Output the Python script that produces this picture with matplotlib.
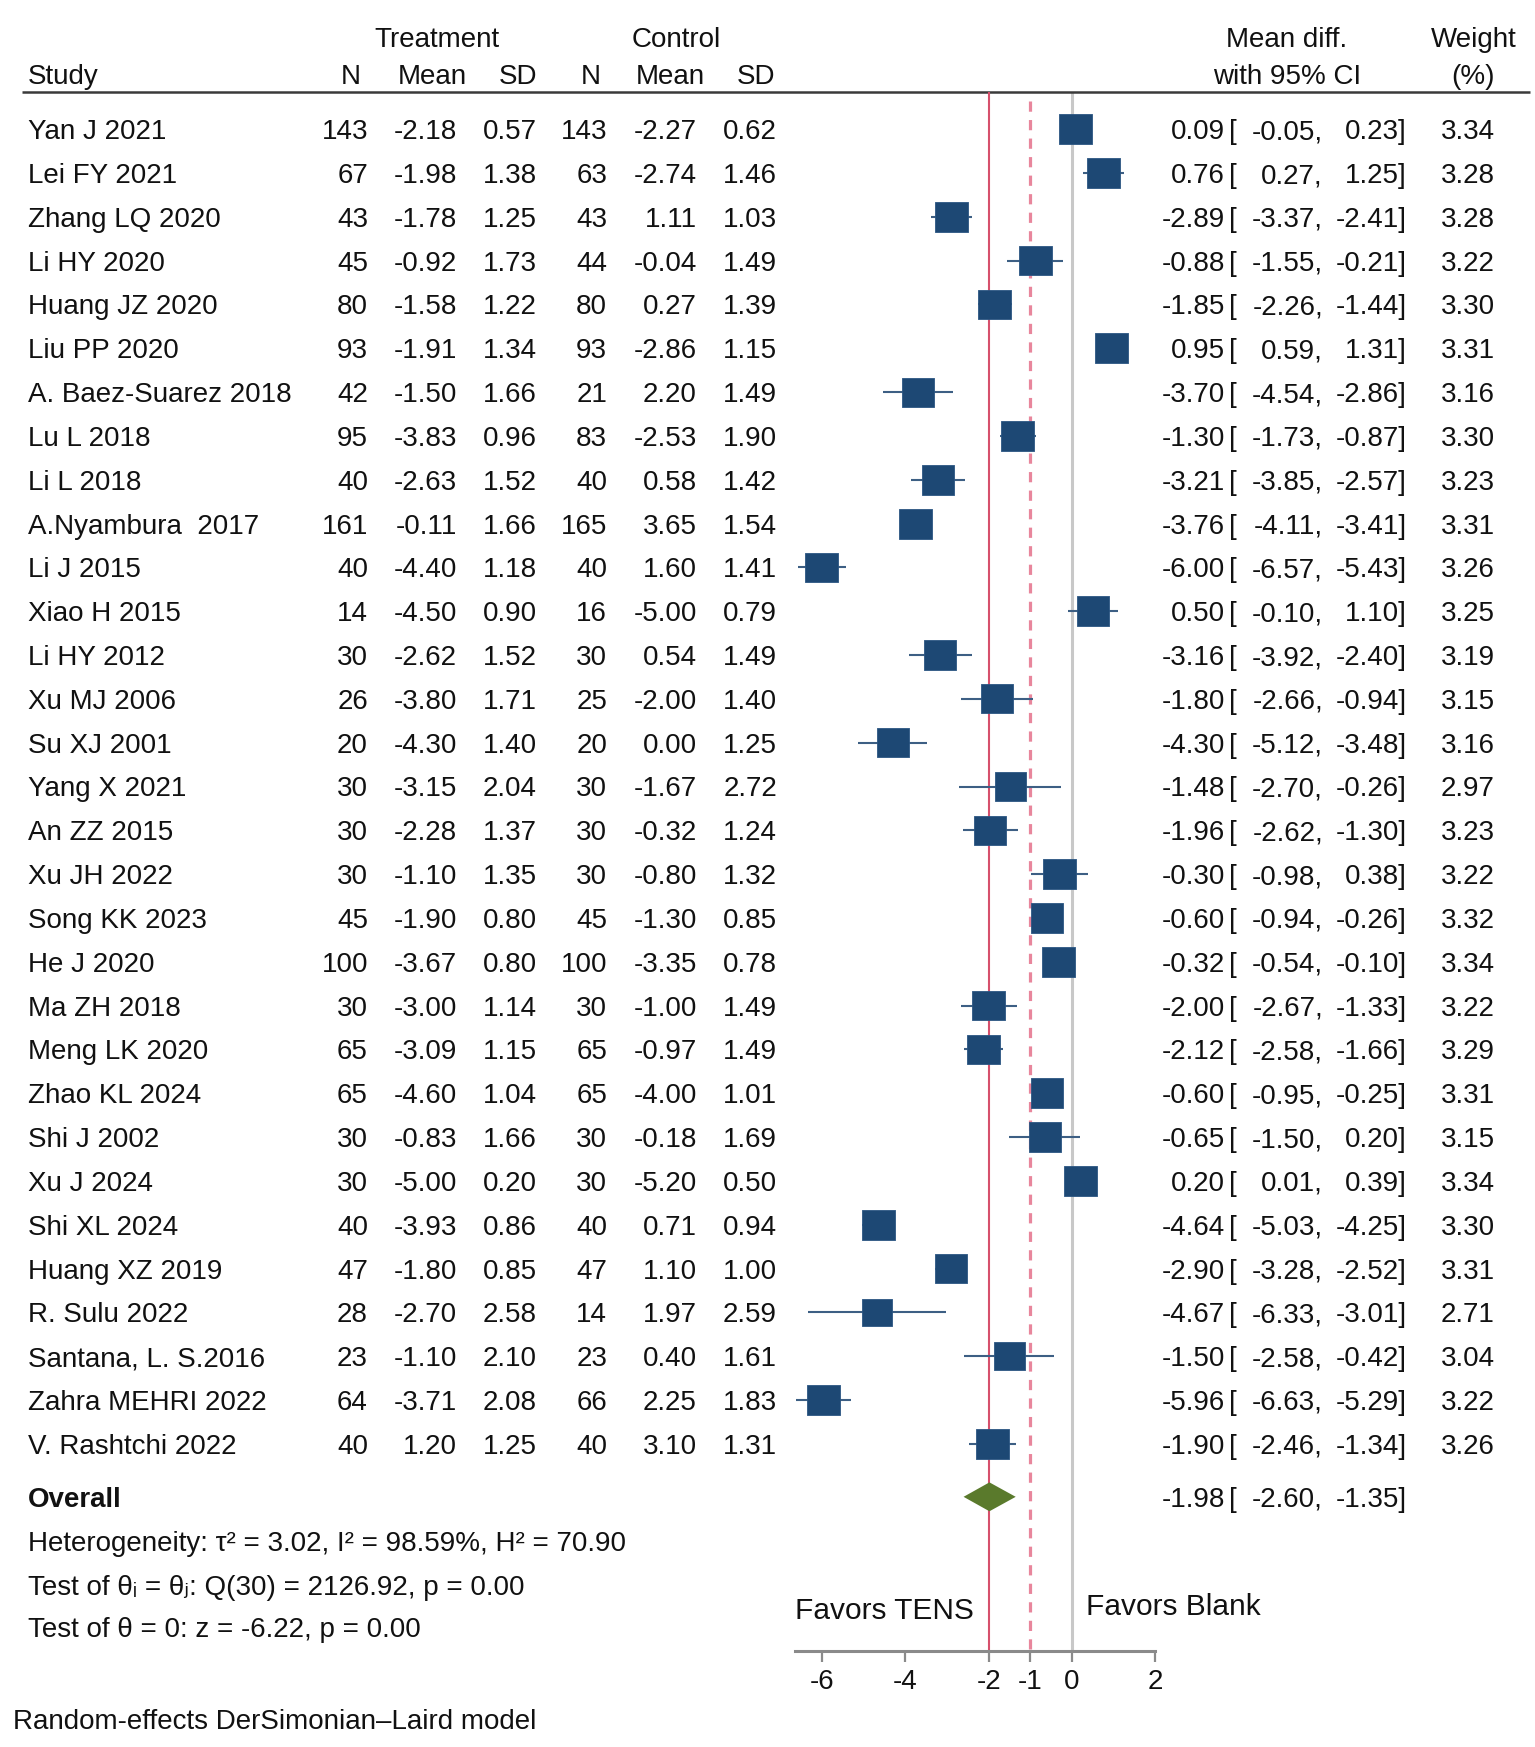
import matplotlib
matplotlib.use('Agg')
import matplotlib.pyplot as plt
from matplotlib.transforms import blended_transform_factory
from matplotlib.path import Path
import numpy as np

plt.rcParams['font.family'] = ['Liberation Sans', 'DejaVu Sans']
plt.rcParams['axes.unicode_minus'] = False

# ---------------- data ----------------
studies = ["Yan J 2021", "Lei FY 2021", "Zhang LQ 2020", "Li HY 2020", "Huang JZ 2020",
           "Liu PP 2020", "A. Baez-Suarez 2018", "Lu L 2018", "Li L 2018", "A.Nyambura  2017",
           "Li J 2015", "Xiao H 2015", "Li HY 2012", "Xu MJ 2006", "Su XJ 2001",
           "Yang X 2021", "An ZZ 2015", "Xu JH 2022", "Song KK 2023", "He J 2020",
           "Ma ZH 2018", "Meng LK 2020", "Zhao KL 2024", "Shi J 2002", "Xu J 2024",
           "Shi XL 2024", "Huang XZ 2019", "R. Sulu 2022", "Santana, L. S.2016",
           "Zahra MEHRI 2022", "V. Rashtchi 2022"]
t_n = [143, 67, 43, 45, 80, 93, 42, 95, 40, 161, 40, 14, 30, 26, 20, 30, 30, 30, 45, 100,
       30, 65, 65, 30, 30, 40, 47, 28, 23, 64, 40]
t_mean = [-2.18, -1.98, -1.78, -0.92, -1.58, -1.91, -1.50, -3.83, -2.63, -0.11, -4.40, -4.50,
          -2.62, -3.80, -4.30, -3.15, -2.28, -1.10, -1.90, -3.67, -3.00, -3.09, -4.60, -0.83,
          -5.00, -3.93, -1.80, -2.70, -1.10, -3.71, 1.20]
t_sd = [0.57, 1.38, 1.25, 1.73, 1.22, 1.34, 1.66, 0.96, 1.52, 1.66, 1.18, 0.90, 1.52, 1.71,
        1.40, 2.04, 1.37, 1.35, 0.80, 0.80, 1.14, 1.15, 1.04, 1.66, 0.20, 0.86, 0.85, 2.58,
        2.10, 2.08, 1.25]
c_n = [143, 63, 43, 44, 80, 93, 21, 83, 40, 165, 40, 16, 30, 25, 20, 30, 30, 30, 45, 100,
       30, 65, 65, 30, 30, 40, 47, 14, 23, 66, 40]
c_mean = [-2.27, -2.74, 1.11, -0.04, 0.27, -2.86, 2.20, -2.53, 0.58, 3.65, 1.60, -5.00, 0.54,
          -2.00, 0.00, -1.67, -0.32, -0.80, -1.30, -3.35, -1.00, -0.97, -4.00, -0.18, -5.20,
          0.71, 1.10, 1.97, 0.40, 2.25, 3.10]
c_sd = [0.62, 1.46, 1.03, 1.49, 1.39, 1.15, 1.49, 1.90, 1.42, 1.54, 1.41, 0.79, 1.49, 1.40,
        1.25, 2.72, 1.24, 1.32, 0.85, 0.78, 1.49, 1.49, 1.01, 1.69, 0.50, 0.94, 1.00, 2.59,
        1.61, 1.83, 1.31]
md = [0.09, 0.76, -2.89, -0.88, -1.85, 0.95, -3.70, -1.30, -3.21, -3.76, -6.00, 0.50, -3.16,
      -1.80, -4.30, -1.48, -1.96, -0.30, -0.60, -0.32, -2.00, -2.12, -0.60, -0.65, 0.20,
      -4.64, -2.90, -4.67, -1.50, -5.96, -1.90]
ci_lo = [-0.05, 0.27, -3.37, -1.55, -2.26, 0.59, -4.54, -1.73, -3.85, -4.11, -6.57, -0.10,
         -3.92, -2.66, -5.12, -2.70, -2.62, -0.98, -0.94, -0.54, -2.67, -2.58, -0.95, -1.50,
         0.01, -5.03, -3.28, -6.33, -2.58, -6.63, -2.46]
ci_hi = [0.23, 1.25, -2.41, -0.21, -1.44, 1.31, -2.86, -0.87, -2.57, -3.41, -5.43, 1.10,
         -2.40, -0.94, -3.48, -0.26, -1.30, 0.38, -0.26, -0.10, -1.33, -1.66, -0.25, 0.20,
         0.39, -4.25, -2.52, -3.01, -0.42, -5.29, -1.34]
weight = [3.34, 3.28, 3.28, 3.22, 3.30, 3.31, 3.16, 3.30, 3.23, 3.31, 3.26, 3.25, 3.19, 3.15,
          3.16, 2.97, 3.23, 3.22, 3.32, 3.34, 3.22, 3.29, 3.31, 3.15, 3.34, 3.30, 3.31, 2.71,
          3.04, 3.22, 3.26]
overall = [-1.98, -2.60, -1.35]
ref_line = -1.0
xticks = [-6, -4, -2, -1, 0, 2]
xticklabels = ["-6", "-4", "-2", "-1", "0", "2"]

# ---------------- layout ----------------
W, H = 1535, 1747
PX = 41.7       # pixels per unit
X0 = 1072       # pixel position of 0
ROW0 = 129.2    # pixel y of first row
ROWH = 43.82    # row height in pixels
FS = 20

fig = plt.figure(figsize=(W / 100, H / 100), dpi=100, facecolor='white')
ax = fig.add_axes([0, 0, 1, 1])
ax.patch.set_visible(False)
ax.set_xlim(-X0 / PX, (W - X0) / PX)
ax.set_ylim((H - ROW0) / ROWH, -ROW0 / ROWH)
tr = blended_transform_factory(ax.transAxes, ax.transData)


def fx(px):
    return px / W


TXT = '#111111'
rows = np.arange(len(studies))
y_head_line = -0.86
y_overall = 31.21
y_axis = 34.73


def put(px, y, s, ha='right', **kw):
    ax.text(fx(px), y, s, transform=tr, ha=ha, va='center_baseline',
            fontsize=kw.pop('fontsize', FS), color=kw.pop('color', TXT), **kw)


# headers
put(437, -2.11, "Treatment", ha='center')
put(676, -2.11, "Control", ha='center')
put(28, -1.27, "Study", ha='left')
for px, s in zip([361, 467, 537, 601, 705, 775], ["N", "Mean", "SD", "N", "Mean", "SD"]):
    put(px, -1.27, s)
put(1287, -2.11, "Mean diff.", ha='center')
put(1287, -1.27, "with 95% CI", ha='center')
put(1474, -2.11, "Weight", ha='center')
put(1473, -1.27, "(%)", ha='center')
ax.plot([fx(22), fx(1530)], [y_head_line, y_head_line], transform=tr,
        color='#3a3a3a', lw=1.8, solid_capstyle='butt')

# rows
for i, y in enumerate(rows):
    put(28, y, studies[i], ha='left')
    put(368, y, f"{t_n[i]}")
    put(457, y, f"{t_mean[i]:.2f}")
    put(537, y, f"{t_sd[i]:.2f}")
    put(607, y, f"{c_n[i]}")
    put(697, y, f"{c_mean[i]:.2f}")
    put(777, y, f"{c_sd[i]:.2f}")
    put(1225, y, f"{md[i]:.2f}")
    put(1229, y, "[", ha='left')
    put(1323, y, f"{ci_lo[i]:.2f},")
    put(1407, y, f"{ci_hi[i]:.2f}]")
    put(1495, y, f"{weight[i]:.2f}")

# overall row
put(28, y_overall, "Overall", ha='left', fontweight='bold')
put(1225, y_overall, f"{overall[0]:.2f}")
put(1229, y_overall, "[", ha='left')
put(1323, y_overall, f"{overall[1]:.2f},")
put(1407, y_overall, f"{overall[2]:.2f}]")

put(28, 32.21, "Heterogeneity: τ² = 3.02, I² = 98.59%, H² = 70.90", ha='left')
put(28, 33.22, "Test of θᵢ = θⱼ: Q(30) = 2126.92, p = 0.00", ha='left')
put(28, 34.19, "Test of θ = 0: z = -6.22, p = 0.00", ha='left')
put(13, 36.27, "Random-effects DerSimonian–Laird model", ha='left')
put(795, 33.74, "Favors TENS", ha='left', fontsize=21.5)
put(1086, 33.66, "Favors Blank", ha='left', fontsize=21.5)

# reference lines
ax.vlines(0, y_head_line, y_axis, color='#c8c8c8', lw=2.2, zorder=1)
ax.vlines(overall[0], y_head_line, y_axis, color='#d6506c', lw=1.5, zorder=2)
ax.vlines(ref_line, -0.65, y_axis, color='#e8869c', lw=2.3, linestyles=(0, (3.2, 2.6)), zorder=2)

# CIs and squares
ax.hlines(rows, ci_lo, ci_hi, color='#3d5f84', lw=1.5, zorder=3)
rect = Path([(-1.1, -1), (1.1, -1), (1.1, 1), (-1.1, 1), (-1.1, -1)],
            [Path.MOVETO, Path.LINETO, Path.LINETO, Path.LINETO, Path.CLOSEPOLY])
ax.scatter(md, rows, s=np.array(weight) * 169, marker=rect, color='#1d4874',
           edgecolor='#2b5683', linewidths=0.6, zorder=4)

# overall diamond
hh = 0.33
ax.fill([overall[1], overall[0], overall[2], overall[0]],
        [y_overall, y_overall - hh, y_overall, y_overall + hh],
        color='#5a7a2c', zorder=5, lw=0)

# axis
for s in ['top', 'left', 'right']:
    ax.spines[s].set_visible(False)
ax.spines['bottom'].set_position(('data', y_axis))
ax.spines['bottom'].set_bounds(-6.64, 2)
ax.spines['bottom'].set_color('#8a8a8a')
ax.spines['bottom'].set_linewidth(2.2)
ax.set_xticks(xticks)
ax.set_xticklabels(xticklabels)
ax.tick_params(axis='x', length=8, width=1.6, color='#8a8a8a', labelsize=FS,
               pad=5, direction='out', labelcolor=TXT)
ax.set_yticks([])

fig.savefig('out.png', dpi=100, facecolor='white')
